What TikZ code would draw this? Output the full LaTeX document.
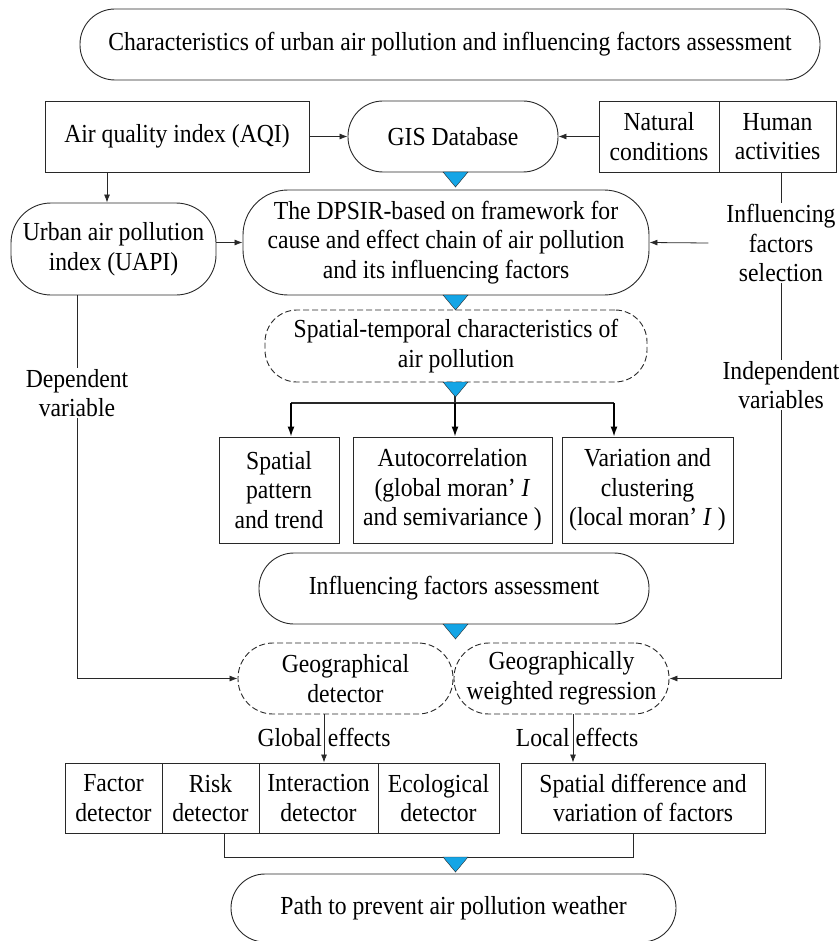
\documentclass[tikz,border=0pt]{standalone}
\usepackage{fontspec}
\setmainfont{Liberation Serif}[FakeStretch=0.91]
\usetikzlibrary{arrows.meta}
\definecolor{tricol}{RGB}{20,165,230}
\definecolor{ln}{RGB}{40,40,40}
\begin{document}
\begin{tikzpicture}[x=1pt,y=-1pt,
  every node/.style={font=\fontsize{26}{29.5}\selectfont, align=center, inner sep=0pt, text=black},
  sq/.style={draw=ln, line width=0.9pt},
  pill/.style={draw=ln, line width=0.9pt, rounded corners=#1},
  dpill/.style={draw=ln, line width=0.9pt, dash pattern=on 6pt off 3pt, rounded corners=#1},
  lab/.style={fill=white, inner sep=1pt},
  arr/.style={draw=ln, line width=0.8pt, -{Latex[length=8pt,width=6pt]}},
  arrb/.style={draw=black, line width=1.4pt, -{Latex[length=10pt,width=7pt]}},
  conn/.style={draw=ln, line width=0.8pt},
  tri/.style={fill=tricol, draw=ln, line width=0.4pt}]
\path[use as bounding box] (0,0) rectangle (838,941);
\clip (0,0) rectangle (838,941);

% top
\node[pill=35pt, minimum width=740pt, minimum height=71pt] (top) at (450,44.5) {Characteristics of urban air pollution and influencing factors assessment};

% row 2
\node[sq, minimum width=264pt, minimum height=71pt] (aqi) at (177,136.5) {Air quality index (AQI)};
\node[pill=35pt, minimum width=210pt, minimum height=71pt] (gis) at (453,136.5) {GIS Database};
\node[sq, minimum width=120pt, minimum height=71pt] (nat) at (659,136.5) {Natural\\conditions};
\node[sq, minimum width=117pt, minimum height=71pt] (hum) at (777.5,136.5) {Human\\activities};

% row 3
\node[pill=40pt, minimum width=205pt, minimum height=92pt] (uapi) at (113.5,249) {Urban air pollution\\index (UAPI)};
\node[pill=45pt, minimum width=406pt, minimum height=105pt] (dpsir) at (446,242.5) {The DPSIR-based on framework for\\cause and effect chain of air pollution\\and its influencing factors};
\node[lab] (sel) at (781,243) {Influencing\\factors\\selection};

% spatial-temporal
\node[dpill=32pt, minimum width=382pt, minimum height=72pt] (st) at (456,346) {Spatial-temporal characteristics of\\air pollution};

% side labels
\node[lab] (dep) at (77,393) {Dependent\\variable};
\node[lab] (indep) at (781,385) {Independent\\variables};

% three boxes
\node[sq, minimum width=120pt, minimum height=106pt] (spat) at (279,490) {Spatial\\pattern\\and trend};
\node[sq, minimum width=199pt, minimum height=106pt] (auto) at (452.5,490) {Autocorrelation\\(global moran’ \textit{I}\\and semivariance )};
\node[sq, minimum width=171pt, minimum height=106pt] (var) at (647.5,490) {Variation and\\clustering\\(local moran’ \textit{I} )};

% influencing factors assessment
\node[pill=35pt, minimum width=390pt, minimum height=71pt] (ifa) at (454,588.5) {Influencing factors assessment};

% detectors
\node[dpill=35pt, minimum width=215pt, minimum height=71pt] (geo) at (345.5,678.5) {Geographical\\detector};
\node[dpill=35pt, minimum width=215pt, minimum height=71pt] (gwr) at (561.5,678.5) {Geographically\\weighted regression};

\node (glob) at (324,737) {Global effects};
\node (loc) at (577,737) {Local effects};

\node[sq, minimum width=97pt, minimum height=70pt] (f1) at (113.5,798) {Factor\\detector};
\node[sq, minimum width=97pt, minimum height=70pt] (f2) at (210.5,798) {Risk\\detector};
\node[sq, minimum width=119pt, minimum height=70pt] (f3) at (318.5,798) {Interaction\\detector};
\node[sq, minimum width=121pt, minimum height=70pt] (f4) at (438.5,798) {Ecological\\detector};
\node[sq, minimum width=244pt, minimum height=70pt] (sd) at (643,798) {Spatial difference and\\variation of factors};

\node[pill=34pt, minimum width=445pt, minimum height=68pt] (path) at (453.5,908) {Path to prevent air pollution weather};

% connectors
\draw[arr] (aqi.east) -- (gis.west);
\draw[arr] (nat.west) -- (gis.east);
\draw[arr] ([xshift=-70pt]aqi.south) -- ([xshift=-70pt]aqi.south |- uapi.north);
\draw[arr] (uapi.east |- dpsir.west) -- (dpsir.west);
\draw[arr] ([xshift=-17pt]sel.west) -- (dpsir.east);
\draw[conn] (sel.north |- hum.south) -- (sel.north);
\draw[conn] (sel.south) -- (indep.north);
\draw[arr] (indep.south) |- (gwr.east);
\draw[conn] (dep.north |- uapi.south) -- (dep.north);
\draw[arr] (dep.south) |- (geo.west);

% bracket to three boxes
\coordinate (bc) at (455,403);
\coordinate (b1) at (291,403);
\coordinate (b3) at (614,403);
\draw[conn, line width=1.4pt] (bc |- st.south) -- (bc);
\draw[conn, line width=1.4pt] (b1) -- (b3);
\draw[arrb] (b1) -- (b1 |- spat.north);
\draw[arrb] (bc) -- (bc |- auto.north);
\draw[arrb] (b3) -- (b3 |- var.north);

% effects
\draw[arr] (glob |- geo.south) -- (glob |- f3.north);
\draw[arr] ([xshift=-4pt]loc.center |- gwr.south) -- ([xshift=-4pt]loc.center |- sd.north);

% bottom bracket
\draw[conn] ([xshift=13.5pt]f2.south) -- ++(0,24) -| ([xshift=-10pt]sd.south);

% blue triangles
\foreach \yy in {172,295,382,624,857}
  \path[tri] (443,\yy) -- (468,\yy) -- (455.5,\yy+15) -- cycle;
\end{tikzpicture}
\end{document}
